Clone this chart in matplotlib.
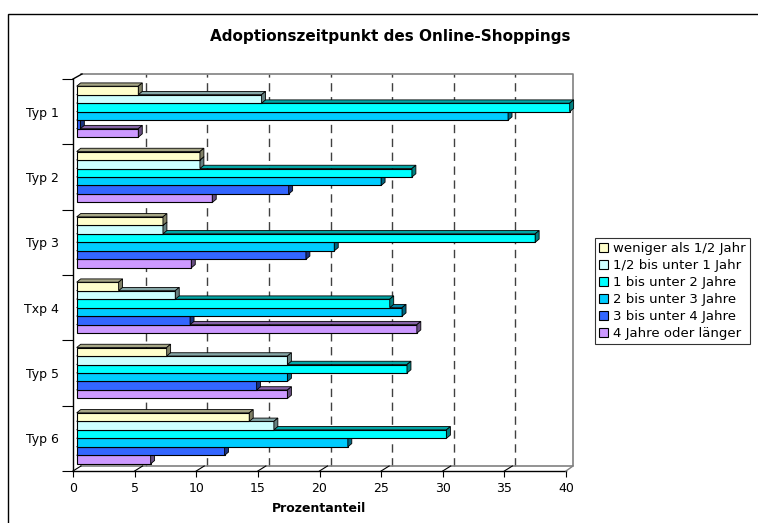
import numpy as np
import matplotlib.pyplot as plt
from matplotlib.patches import Polygon, Rectangle, Patch
from matplotlib.lines import Line2D
from matplotlib.transforms import ScaledTranslation, IdentityTransform
from matplotlib.colors import to_rgb

plt.rcParams['font.family'] = ['DejaVu Sans']

# Data (percent)
types = ['Typ 1', 'Typ 2', 'Typ 3', 'Txp 4', 'Typ 5', 'Typ 6']
series = ['weniger als 1/2 Jahr', '1/2 bis unter 1 Jahr', '1 bis unter 2 Jahre',
          '2 bis unter 3 Jahre', '3 bis unter 4 Jahre', '4 Jahre oder länger']
under_half = [5.0, 10.0, 7.0, 3.4, 7.3, 14.0]
half_to_one = [15.0, 10.0, 7.0, 8.0, 17.1, 16.0]
one_to_two = [40.0, 27.2, 37.2, 25.4, 26.8, 30.0]
two_to_three = [35.0, 24.7, 20.9, 26.4, 17.1, 22.0]
three_to_four = [0.3, 17.2, 18.6, 9.2, 14.6, 12.0]
four_plus = [5.0, 11.0, 9.3, 27.6, 17.1, 6.0]
values = [under_half, half_to_one, one_to_two, two_to_three, three_to_four, four_plus]
colors = ['#FFFFCC', '#CCFFFF', '#00FFFF', '#00CCFF', '#3366FF', '#CC99FF']

W, H = 758, 523
fig = plt.figure(figsize=(W / 100, H / 100), dpi=100)
ax = fig.add_axes([73 / W, 1 - 471 / H, 493 / W, 392 / H])
ax.set_xlim(0, 40)
ax.set_ylim(-0.5, 5.5)
ax.patch.set_visible(False)

# 3D look: depth of each bar in data units
bh = 0.13
dx, dy = 0.32, 0.05
x0 = 0.3

def darker(c, f=0.6):
    return tuple(v * f for v in to_rgb(c))

ypos = 5 - np.arange(len(types))
for j in range(len(series) - 1, -1, -1):
    z = 10 - j
    yc = ypos + (2.5 - j) * bh
    ax.barh(yc, values[j], height=bh, left=x0, color=colors[j],
            edgecolor='black', linewidth=0.8, zorder=z, clip_on=False)
    for y, v in zip(yc, values[j]):
        yb, yt = y - bh / 2, y + bh / 2
        x1 = x0 + v
        top = Polygon([(x0, yt), (x1, yt), (x1 + dx, yt + dy), (x0 + dx, yt + dy)],
                      closed=True, facecolor=darker(colors[j], 0.65),
                      edgecolor='black', linewidth=0.6, zorder=z, clip_on=False)
        side = Polygon([(x1, yb), (x1 + dx, yb + dy), (x1 + dx, yt + dy), (x1, yt)],
                       closed=True, facecolor=darker(colors[j], 0.5),
                       edgecolor='black', linewidth=0.6, zorder=z, clip_on=False)
        ax.add_patch(top)
        ax.add_patch(side)

# back wall and gridlines
grid_tr = ax.transData + ScaledTranslation(11 / 100, 5 / 100, fig.dpi_scale_trans)
wall_tr = ax.transData + ScaledTranslation(7 / 100, 5 / 100, fig.dpi_scale_trans)
for t in range(5, 40, 5):
    ax.add_line(Line2D([t, t], [-0.5, 5.5], transform=grid_tr, color='#404040',
                       linewidth=1.0, dashes=(6, 4), clip_on=False, zorder=1))
wall_c = '#808080'
ax.add_line(Line2D([0.1, 40, 40, 0.1], [5.5, 5.5, -0.5, -0.5], transform=wall_tr,
                   color=wall_c, linewidth=1.2, clip_on=False, zorder=1))

def disp(x, y, ox=0, oy=0):
    px, py = ax.transData.transform((x, y))
    return px + ox, py + oy

# diagonal edges between front axes and back wall
for (x, y, ox, c) in [(0, 5.5, 9, 'black'), (40, -0.5, 7, wall_c)]:
    p0 = disp(x, y)
    p1 = disp(x, y, ox, 5)
    fig.add_artist(Line2D([p0[0], p1[0]], [p0[1], p1[1]], transform=IdentityTransform(),
                          color=c, linewidth=1.0))
for t in range(0, 40, 5):
    p0 = disp(t, -0.5)
    p1 = disp(t, -0.5, 8, 5)
    fig.add_artist(Line2D([p0[0], p1[0]], [p0[1], p1[1]], transform=IdentityTransform(),
                          color='black', linewidth=0.8))

# axes styling
for s in ['top', 'right']:
    ax.spines[s].set_visible(False)
for s in ['left', 'bottom']:
    ax.spines[s].set_linewidth(1.0)
    ax.spines[s].set_zorder(20)
ax.set_xticks(np.arange(0, 41, 5))
ax.tick_params(axis='x', direction='out', length=4, labelsize=9, pad=4)
ax.set_yticks(np.arange(-0.5, 5.6, 1.0))
ax.set_yticklabels([])
ax.tick_params(axis='y', which='major', direction='out', length=8)
ax.set_yticks(ypos, minor=True)
ax.set_yticklabels(types, minor=True)
ax.tick_params(axis='y', which='minor', length=0, labelsize=9, pad=10)

fig.text(390 / W, 1 - 37 / H, 'Adoptionszeitpunkt des Online-Shoppings',
         ha='center', va='center', fontsize=11, fontweight='bold')
fig.text(319 / W, 1 - 508 / H, 'Prozentanteil', ha='center', va='center',
         fontsize=9, fontweight='bold')

handles = [Patch(facecolor=c, edgecolor='black', linewidth=0.8, label=s)
           for c, s in zip(colors, series)]
leg = fig.legend(handles=handles, loc='upper left', bbox_to_anchor=(595 / W, 1 - 238 / H),
                 frameon=True, fancybox=False, fontsize=9.5, handlelength=0.7,
                 handleheight=0.7, handletextpad=0.4, borderpad=0.3, labelspacing=0.3,
                 borderaxespad=0)
leg.get_frame().set_edgecolor('black')
leg.get_frame().set_linewidth(0.8)

fig.add_artist(Rectangle((8 / W, -0.05), 1.1, 1 - 14 / H + 0.05, transform=fig.transFigure,
                         fill=False, edgecolor='black', linewidth=1.0))

fig.savefig('out.png', dpi=100)
